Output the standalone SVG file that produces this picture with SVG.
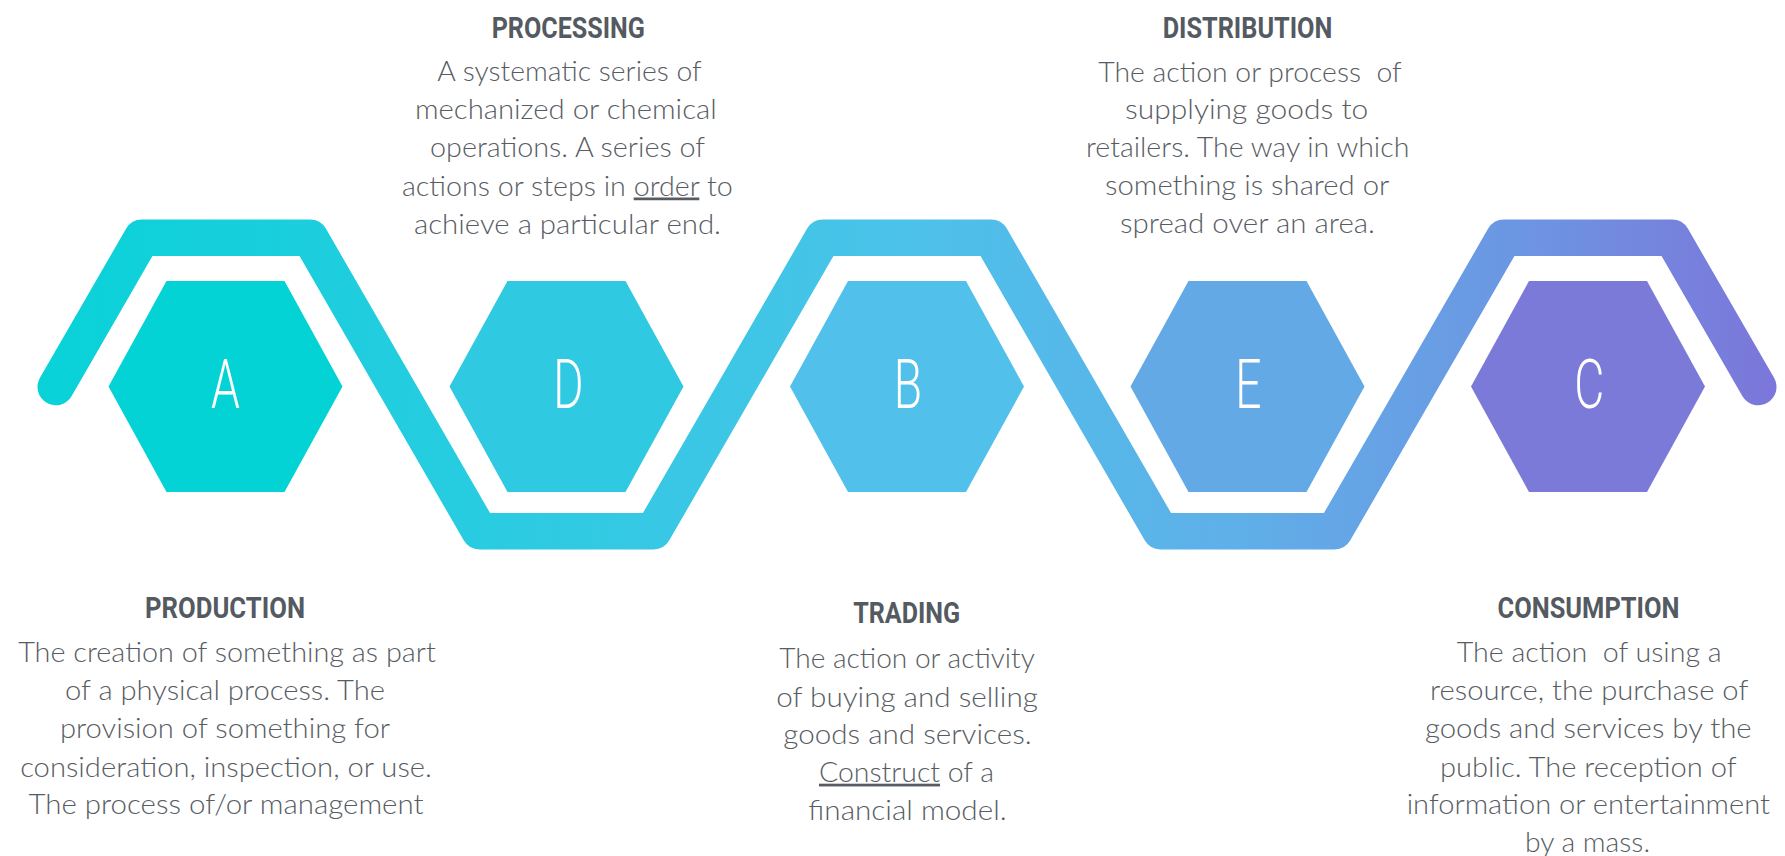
<svg xmlns="http://www.w3.org/2000/svg" width="1785" height="856" viewBox="0 0 1785 856">
  <style>
    .hex-letter { font-family: Roboto, "Liberation Sans", sans-serif; font-weight: 300; font-size: 68px; fill: #ffffff; text-anchor: middle; }
    .title { font-family: Roboto, "Liberation Sans", sans-serif; font-weight: 700; font-size: 30px; fill: #545A61; text-anchor: middle; }
    .body { font-family: Lato, "Liberation Sans", sans-serif; font-weight: 300; font-size: 27.5px; fill: #575C63; text-anchor: middle; }
    .u { text-decoration: underline; }
  </style>
  <defs>
    <linearGradient id="flow" gradientUnits="userSpaceOnUse" x1="38" y1="0" x2="1777" y2="0">
      <stop offset="0" stop-color="#08D2D8"/>
      <stop offset="0.25" stop-color="#28CCE0"/>
      <stop offset="0.5" stop-color="#4CC2EA"/>
      <stop offset="0.7" stop-color="#60AEE8"/>
      <stop offset="0.85" stop-color="#6C96E2"/>
      <stop offset="1" stop-color="#7C76DA"/>
    </linearGradient>
    <polygon id="hex" points="-117,0 -59,-105.5 59,-105.5 117,0 59,105.5 -59,105.5"/>
  </defs>

  <rect width="1785" height="856" fill="#ffffff"/>

  <g id="connectors">
    <path d="M55.75,387 L141.95,237.7 L310.05,237.7 L396.25,387 L479.5,531.2 L653.5,531.2 L736.75,387 L822.95,237.7 L991.05,237.7 L1077.25,387 L1160.5,531.2 L1334.5,531.2 L1417.75,387 L1503.95,237.7 L1672.05,237.7 L1758.25,387" fill="none" stroke="url(#flow)" stroke-width="36.5" stroke-linecap="round" stroke-linejoin="round"/>
  </g>

  <g id="node-A">
    <use href="#hex" transform="translate(225.5,386.5)" fill="#04D3D6"/>
    <text class="hex-letter" transform="translate(225.5,408.3) scale(0.68,1)">A</text>
    <text class="title" x="225" y="618.3" textLength="160" lengthAdjust="spacingAndGlyphs">PRODUCTION</text>
    <text class="body" x="227" y="661.7" textLength="417.7" lengthAdjust="spacingAndGlyphs">The creation of something as part</text>
    <text class="body" x="225" y="700" textLength="320" lengthAdjust="spacingAndGlyphs">of a physical process. The</text>
    <text class="body" x="225" y="738.3" textLength="330" lengthAdjust="spacingAndGlyphs">provision of something for</text>
    <text class="body" x="226" y="776.7" textLength="411.7" lengthAdjust="spacingAndGlyphs">consideration, inspection, or use.</text>
    <text class="body" x="226" y="814.3" textLength="395" lengthAdjust="spacingAndGlyphs">The process of/or management</text>
  </g>

  <g id="node-D">
    <use href="#hex" transform="translate(566.5,386.5)" fill="#2FC9E2"/>
    <text class="hex-letter" transform="translate(568.5,408.3) scale(0.68,1)">D</text>
    <text class="title" x="568.3" y="37.7" textLength="153.3" lengthAdjust="spacingAndGlyphs">PROCESSING</text>
    <text class="body" x="569.5" y="81" textLength="264.3" lengthAdjust="spacingAndGlyphs">A systematic series of</text>
    <text class="body" x="565.8" y="119.3" textLength="301.7" lengthAdjust="spacingAndGlyphs">mechanized or chemical</text>
    <text class="body" x="567.5" y="157.4" textLength="275" lengthAdjust="spacingAndGlyphs">operations. A series of</text>
    <text class="body" x="567.4" y="195.5" textLength="331" lengthAdjust="spacingAndGlyphs">actions or steps in <tspan class="u">order</tspan> to</text>
    <text class="body" x="567.5" y="233.6" textLength="307" lengthAdjust="spacingAndGlyphs">achieve a particular end.</text>
  </g>

  <g id="node-B">
    <use href="#hex" transform="translate(907,386.5)" fill="#51C1EB"/>
    <text class="hex-letter" transform="translate(908,408.3) scale(0.68,1)">B</text>
    <text class="title" x="906.7" y="623.3" textLength="107" lengthAdjust="spacingAndGlyphs">TRADING</text>
    <text class="body" x="907" y="668.3" textLength="255.7" lengthAdjust="spacingAndGlyphs">The action or activity</text>
    <text class="body" x="907" y="706.7" textLength="261.7" lengthAdjust="spacingAndGlyphs">of buying and selling</text>
    <text class="body" x="907.5" y="744.3" textLength="248.3" lengthAdjust="spacingAndGlyphs">goods and services.</text>
    <text class="body" x="906.5" y="781.7" textLength="175" lengthAdjust="spacingAndGlyphs"><tspan class="u">Construct</tspan> of a</text>
    <text class="body" x="907.5" y="820" textLength="198.3" lengthAdjust="spacingAndGlyphs">financial model.</text>
  </g>

  <g id="node-E">
    <use href="#hex" transform="translate(1247.5,386.5)" fill="#63A9E6"/>
    <text class="hex-letter" transform="translate(1248.5,408.3) scale(0.68,1)">E</text>
    <text class="title" x="1247.5" y="37.7" textLength="169.7" lengthAdjust="spacingAndGlyphs">DISTRIBUTION</text>
    <text class="body" x="1250" y="81.7" textLength="303.3" lengthAdjust="spacingAndGlyphs" xml:space="preserve">The action or process  of</text>
    <text class="body" x="1246.7" y="118.5" textLength="243.3" lengthAdjust="spacingAndGlyphs">supplying goods to</text>
    <text class="body" x="1247.7" y="156.7" textLength="323.3" lengthAdjust="spacingAndGlyphs">retailers. The way in which</text>
    <text class="body" x="1247.2" y="195" textLength="284.3" lengthAdjust="spacingAndGlyphs">something is shared or</text>
    <text class="body" x="1247.5" y="233.3" textLength="255" lengthAdjust="spacingAndGlyphs">spread over an area.</text>
  </g>

  <g id="node-C">
    <use href="#hex" transform="translate(1588,386.5)" fill="#7C7AD8"/>
    <text class="hex-letter" transform="translate(1589.3,408.3) scale(0.68,1)">C</text>
    <text class="title" x="1588.5" y="618.3" textLength="182" lengthAdjust="spacingAndGlyphs">CONSUMPTION</text>
    <text class="body" x="1589.2" y="661.7" textLength="265" lengthAdjust="spacingAndGlyphs" xml:space="preserve">The action  of using a</text>
    <text class="body" x="1589.2" y="700" textLength="318.3" lengthAdjust="spacingAndGlyphs">resource, the purchase of</text>
    <text class="body" x="1588.3" y="738.3" textLength="326.7" lengthAdjust="spacingAndGlyphs">goods and services by the</text>
    <text class="body" x="1588.3" y="776.7" textLength="296.7" lengthAdjust="spacingAndGlyphs">public. The reception of</text>
    <text class="body" x="1588.3" y="814.3" textLength="363.3" lengthAdjust="spacingAndGlyphs">information or entertainment</text>
    <text class="body" x="1587.5" y="851.7" textLength="125" lengthAdjust="spacingAndGlyphs">by a mass.</text>
  </g>
</svg>
